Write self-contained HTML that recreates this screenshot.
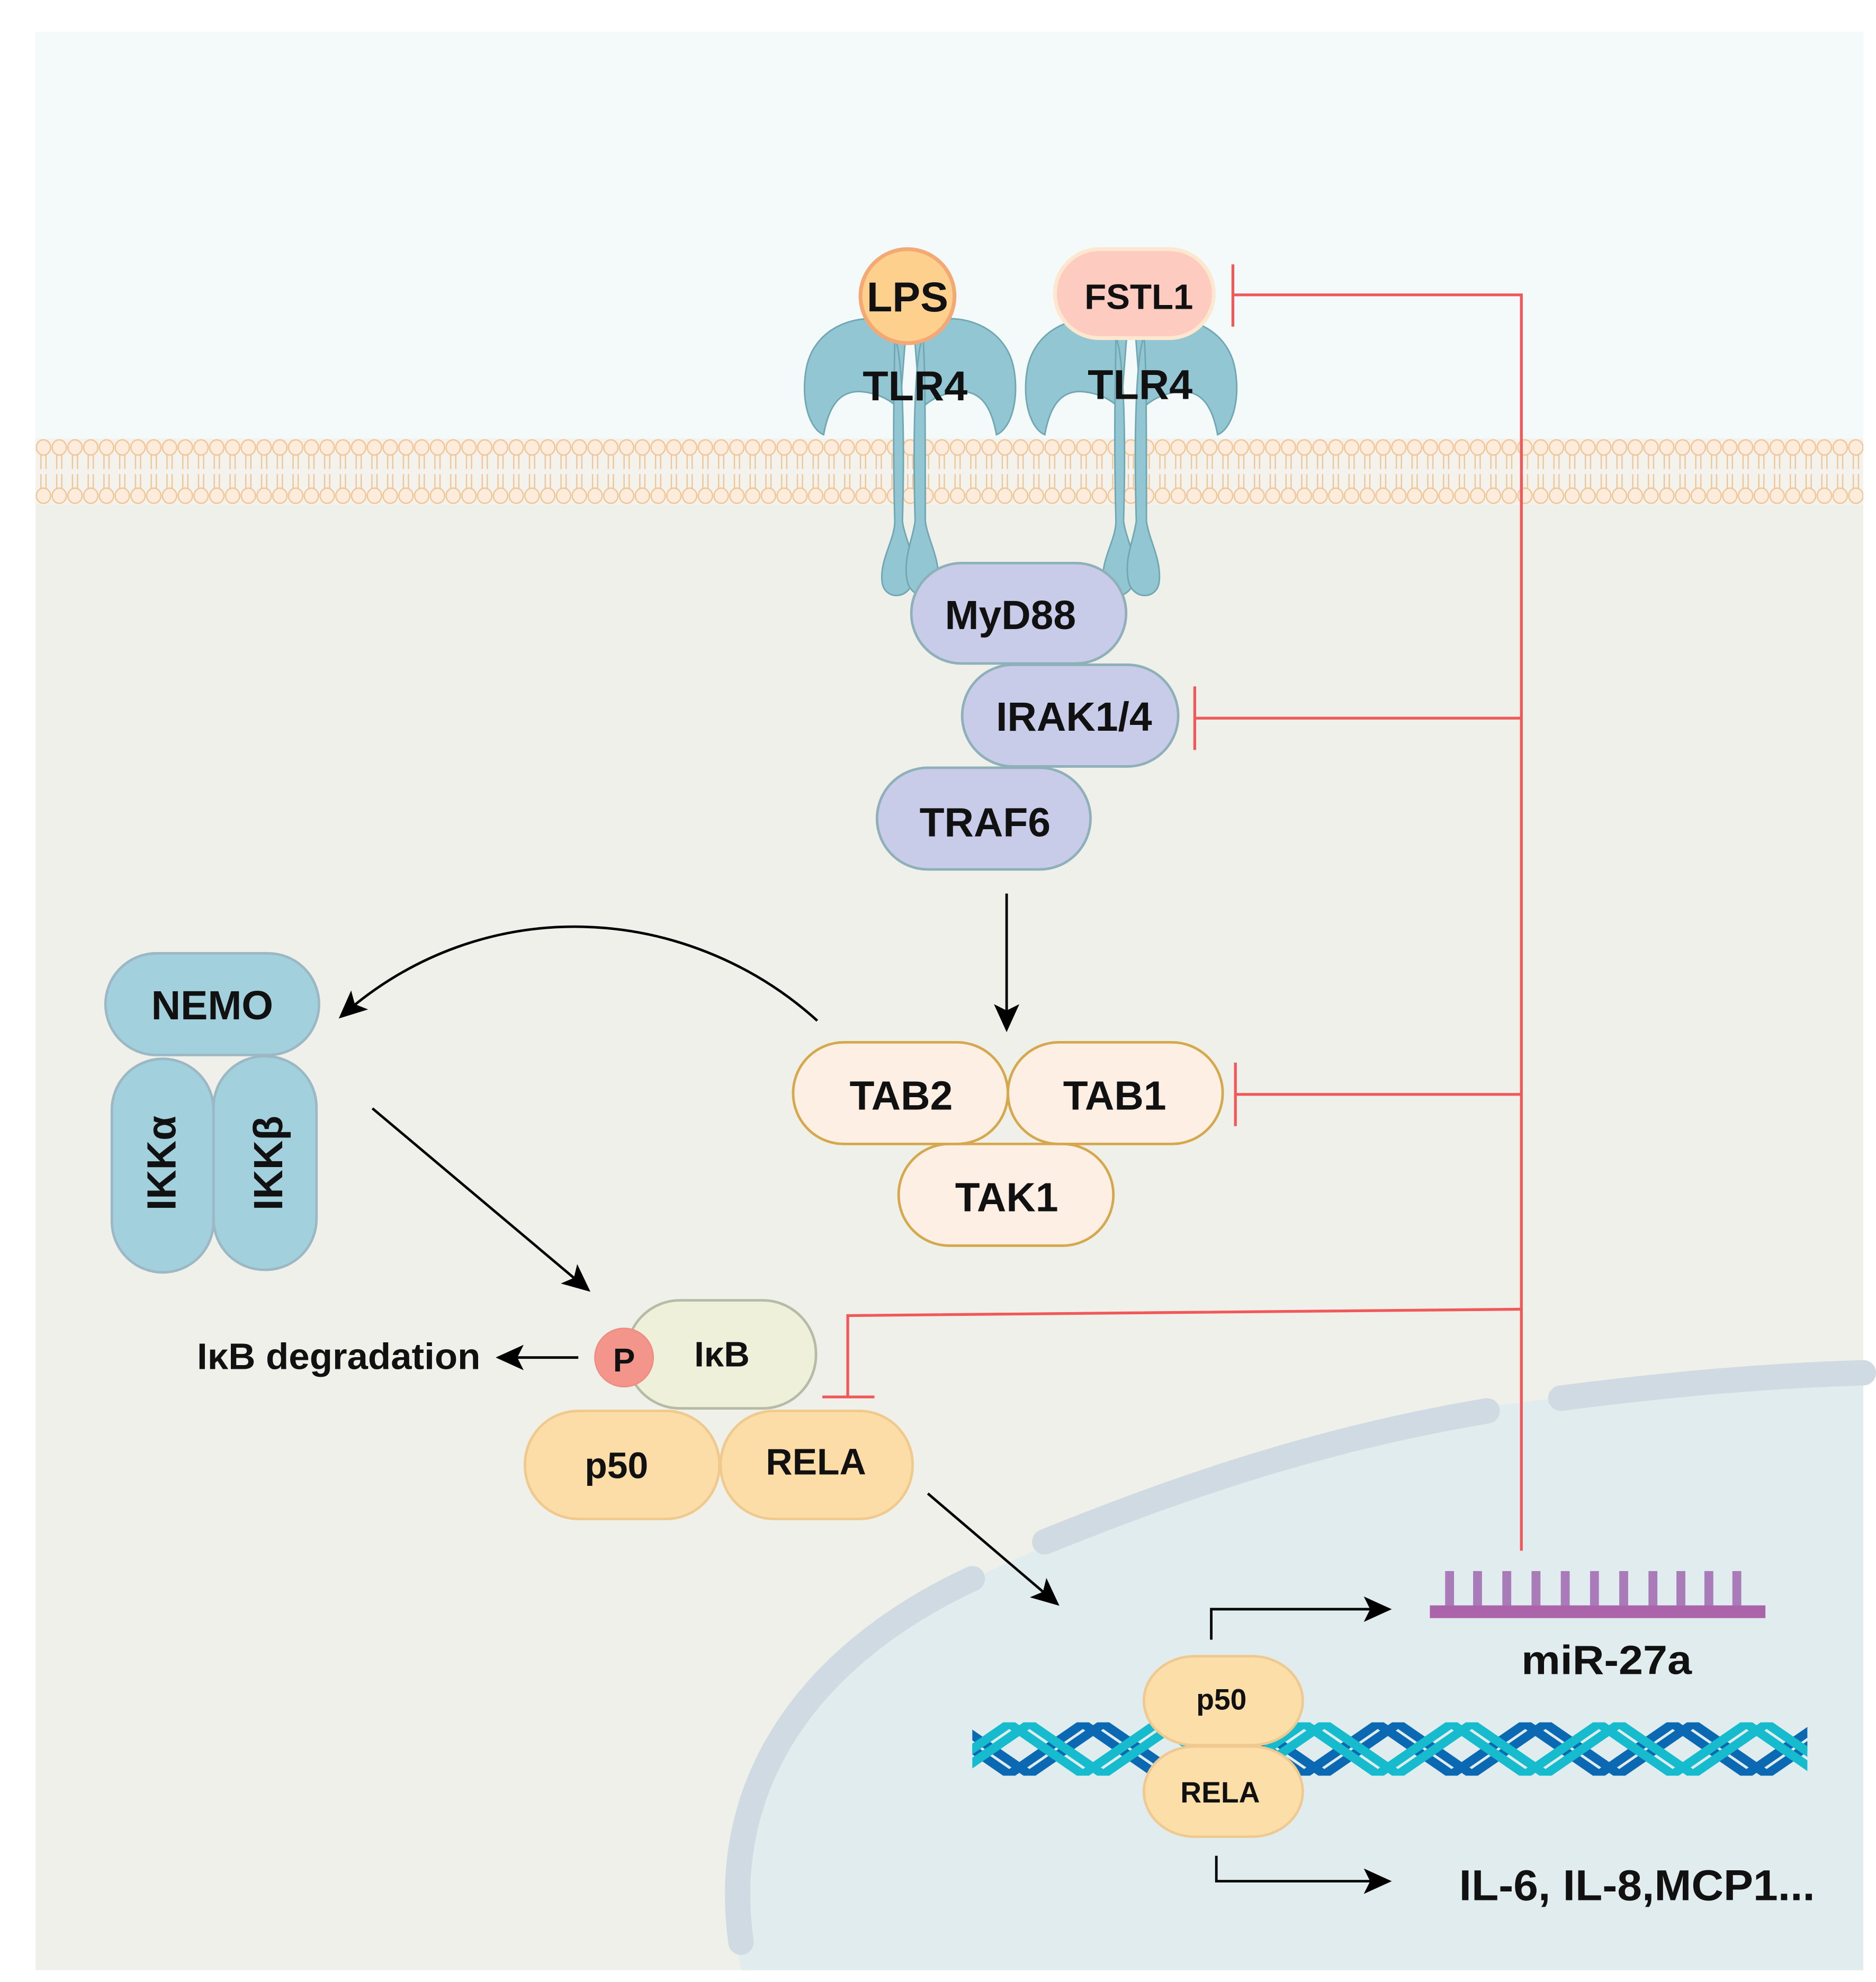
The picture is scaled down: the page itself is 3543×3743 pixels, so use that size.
<!DOCTYPE html>
<html><head><meta charset="utf-8"><style>
html,body{margin:0;padding:0;background:#fff;}
svg{display:block;}
text{font-family:"Liberation Sans",Arial,sans-serif;font-weight:bold;fill:#111;}
</style></head><body>
<svg width="3543" height="3743" viewBox="0 0 1476 1559.3" preserveAspectRatio="none" xmlns="http://www.w3.org/2000/svg">
<defs>
<pattern id="mem" x="28" y="345" width="12.4" height="52" patternUnits="userSpaceOnUse">
<g stroke="#efc595" stroke-width="1" fill="#fdebdc">
<line x1="4.2" y1="12" x2="4.2" y2="24"/><line x1="8.2" y1="12" x2="8.2" y2="24"/>
<line x1="4.2" y1="28" x2="4.2" y2="40"/><line x1="8.2" y1="28" x2="8.2" y2="40"/>
<ellipse cx="6.2" cy="7" rx="5.6" ry="6"/><ellipse cx="6.2" cy="45" rx="5.6" ry="6"/>
</g>
</pattern>
<clipPath id="dnaclip"><rect x="765" y="1355" width="657" height="42"/></clipPath>
<marker id="ahb" markerWidth="22" markerHeight="20" refX="20" refY="10" orient="auto" markerUnits="userSpaceOnUse">
<path d="M0,0 L22,10 L0,20 L5,10 Z" fill="#000"/></marker>
<g id="tlr">
<path d="M-3,-42 C-30,-58 -76,-48 -82,-8 C-86,18 -78,38 -68,42 C-64,20 -56,8 -40,8 C-24,9 -14,16 -8,22 Z" fill="#93c6d3" stroke="#6fa7b2" stroke-width="1.2"/>
<path d="M3,-42 C30,-58 76,-48 82,-8 C86,18 78,38 68,42 C64,20 56,8 40,8 C24,9 14,16 8,22 Z" fill="#93c6d3" stroke="#6fa7b2" stroke-width="1.2"/>
<path d="M-12,-35 C-6,-20 -4,40 -6,110 C-4,125 6,140 2,158 C-2,172 -20,172 -22,158 C-24,140 -12,125 -12,110 C-14,40 -12,-20 -12,-35 Z" fill="#93c6d3" stroke="#6fa7b2" stroke-width="1.2"/>
<path d="M10,-35 C4,-20 2,40 4,110 C2,125 -6,140 -2,158 C2,172 20,172 22,158 C24,140 14,125 12,110 C12,40 12,-20 10,-35 Z" fill="#93c6d3" stroke="#6fa7b2" stroke-width="1.2"/>
</g>
<path id="zz" d="M0,0 l58,40 l58,-40 l58,40 l58,-40 l58,40 l58,-40 l58,40 l58,-40 l58,40 l58,-40 l58,40 l58,-40 l58,40 l58,-40 l58,40 l58,-40"/>
</defs>
<!-- backgrounds -->
<rect x="28" y="25" width="1438" height="325" fill="#f4f9f9"/>
<rect x="28" y="380" width="1438" height="1170" fill="#f0f0ea"/>
<rect x="28" y="345" width="1438" height="52" fill="#f4f2ec"/>
<rect x="28" y="345" width="1438" height="52" fill="url(#mem)"/>
<!-- nucleus -->
<path d="M583,1550 C555,1400 640,1290 770,1240 C900,1180 1050,1120 1200,1103 C1300,1090 1400,1080 1466,1078 L1466,1550 Z" fill="#e1ecef"/>
<g fill="none" stroke="#cfdae2" stroke-width="20" stroke-linecap="round">
<path d="M583,1528 C565,1400 640,1300 765,1242"/>
<path d="M822,1213 C940,1165 1050,1130 1170,1110"/>
<path d="M1228,1100 C1320,1088 1400,1082 1466,1080"/>
</g>
<!-- TLR4 -->
<use href="#tlr" x="716" y="300"/>
<use href="#tlr" x="890" y="300"/>
<circle cx="714" cy="233" r="37" fill="#fdd08e" stroke="#f4a974" stroke-width="3"/>
<text x="714" y="245" font-size="33" text-anchor="middle">LPS</text>
<rect x="830" y="196" width="125" height="70" rx="35" fill="#fdcbc0" stroke="#fde8cf" stroke-width="3"/>
<text x="896" y="243" font-size="28" text-anchor="middle">FSTL1</text>
<text x="720" y="315" font-size="33" text-anchor="middle">TLR4</text>
<text x="897" y="314" font-size="33" text-anchor="middle">TLR4</text>
<!-- MyD88 etc -->
<g fill="#c8cce9" stroke="#8eb0b8" stroke-width="2">
<rect x="717" y="443" width="169" height="79" rx="39.5"/>
<rect x="757" y="523" width="170" height="80" rx="40"/>
<rect x="690" y="604" width="168" height="80" rx="40"/>
</g>
<text x="795" y="495" font-size="32" text-anchor="middle">MyD88</text>
<text x="845" y="575" font-size="32" text-anchor="middle">IRAK1/4</text>
<text x="775" y="658" font-size="32" text-anchor="middle">TRAF6</text>
<line x1="792" y1="703" x2="792" y2="810" stroke="#000" stroke-width="2" marker-end="url(#ahb)"/>
<!-- TAB -->
<g fill="#fdefe4" stroke="#d6a84e" stroke-width="2">
<rect x="707" y="900" width="169" height="80" rx="40"/>
<rect x="624" y="820" width="169" height="80" rx="40"/>
<rect x="793" y="820" width="169" height="80" rx="40"/>
</g>
<text x="709" y="873" font-size="32" text-anchor="middle">TAB2</text>
<text x="877" y="873" font-size="32" text-anchor="middle">TAB1</text>
<text x="792" y="953" font-size="32" text-anchor="middle">TAK1</text>
<!-- NEMO IKK -->
<g fill="#a2d0dd" stroke="#9bb8c4" stroke-width="2">
<rect x="88" y="833" width="80" height="168" rx="40"/>
<rect x="168" y="831" width="81" height="168" rx="40"/>
<rect x="83" y="750" width="168" height="80" rx="40"/>
</g>
<text x="167" y="802" font-size="32" text-anchor="middle">NEMO</text>
<text transform="translate(138,915) rotate(-90)" font-size="32" text-anchor="middle">IKKα</text>
<text transform="translate(222,915) rotate(-90)" font-size="32" text-anchor="middle">IKKβ</text>
<path d="M643,803 C540,710 380,700 268,800" fill="none" stroke="#000" stroke-width="2" marker-end="url(#ahb)"/>
<line x1="293" y1="872" x2="463" y2="1015" stroke="#000" stroke-width="2" marker-end="url(#ahb)"/>
<!-- IkB complex -->
<rect x="493" y="1023" width="149" height="85" rx="42" fill="#eef0d9" stroke="#b5bca5" stroke-width="2"/>
<circle cx="491" cy="1068" r="23" fill="#f4958b" stroke="#ee8a80" stroke-width="1"/>
<text x="491" y="1079" font-size="26" text-anchor="middle">P</text>
<text x="568" y="1075" font-size="28" text-anchor="middle">IκB</text>
<g fill="#fcdda7" stroke="#f0c98d" stroke-width="2">
<rect x="413" y="1110" width="153" height="85" rx="42"/>
<rect x="567" y="1110" width="151" height="85" rx="42"/>
</g>
<text x="485" y="1163" font-size="29" text-anchor="middle">p50</text>
<text x="642" y="1160" font-size="29" text-anchor="middle">RELA</text>
<text x="155" y="1077" font-size="29" textLength="223" lengthAdjust="spacingAndGlyphs">IκB degradation</text>
<line x1="455" y1="1068" x2="392" y2="1068" stroke="#000" stroke-width="2" marker-end="url(#ahb)"/>
<line x1="730" y1="1175" x2="832" y2="1262" stroke="#000" stroke-width="2" marker-end="url(#ahb)"/>
<!-- red inhibition lines -->
<g stroke="#f0585a" stroke-width="2.2" fill="none">
<polyline points="970,232 1197,232 1197,1220"/>
<line x1="970" y1="208" x2="970" y2="257"/>
<line x1="940" y1="565" x2="1197" y2="565"/>
<line x1="940" y1="540" x2="940" y2="590"/>
<line x1="972" y1="861" x2="1197" y2="861"/>
<line x1="972" y1="836" x2="972" y2="886"/>
<polyline points="1197,1030 667,1035 667,1099"/>
<line x1="647" y1="1099" x2="688" y2="1099"/>
</g>
<!-- miR -->
<g fill="#a97cb9">
<rect x="1137" y="1236" width="7" height="30"/><rect x="1159" y="1236" width="7" height="30"/>
<rect x="1182" y="1236" width="7" height="30"/><rect x="1205" y="1236" width="7" height="30"/>
<rect x="1228" y="1236" width="7" height="30"/><rect x="1251" y="1236" width="7" height="30"/>
<rect x="1274" y="1236" width="7" height="30"/><rect x="1297" y="1236" width="7" height="30"/>
<rect x="1319" y="1236" width="7" height="30"/><rect x="1341" y="1236" width="7" height="30"/>
<rect x="1363" y="1236" width="7" height="30"/>
</g>
<rect x="1125" y="1263" width="264" height="10" fill="#ab63a9"/>
<text x="1197" y="1317" font-size="32" textLength="134" lengthAdjust="spacingAndGlyphs">miR-27a</text>
<polyline points="953,1290 953,1266 1093,1266" fill="none" stroke="#000" stroke-width="2" marker-end="url(#ahb)"/>
<!-- DNA -->
<g clip-path="url(#dnaclip)" fill="none" stroke-width="7">
<use href="#zz" x="736" y="1356" stroke="#0a69b2"/>
<use href="#zz" x="752" y="1356" stroke="#0a69b2"/>
<use href="#zz" x="678" y="1356" stroke="#16bccd"/>
<use href="#zz" x="694" y="1356" stroke="#16bccd"/>
</g>
<g fill="#fcdea9" stroke="#efc990" stroke-width="2">
<rect x="900" y="1303" width="125" height="70" rx="40"/>
<rect x="900" y="1374" width="125" height="71" rx="40"/>
</g>
<text x="961" y="1345" font-size="23" text-anchor="middle">p50</text>
<text x="960" y="1418" font-size="23" text-anchor="middle">RELA</text>
<polyline points="957,1460 957,1480 1093,1480" fill="none" stroke="#000" stroke-width="2" marker-end="url(#ahb)"/>
<text x="1148" y="1495" font-size="34" textLength="280" lengthAdjust="spacingAndGlyphs">IL-6, IL-8,MCP1...</text>
</svg>
</body></html>
